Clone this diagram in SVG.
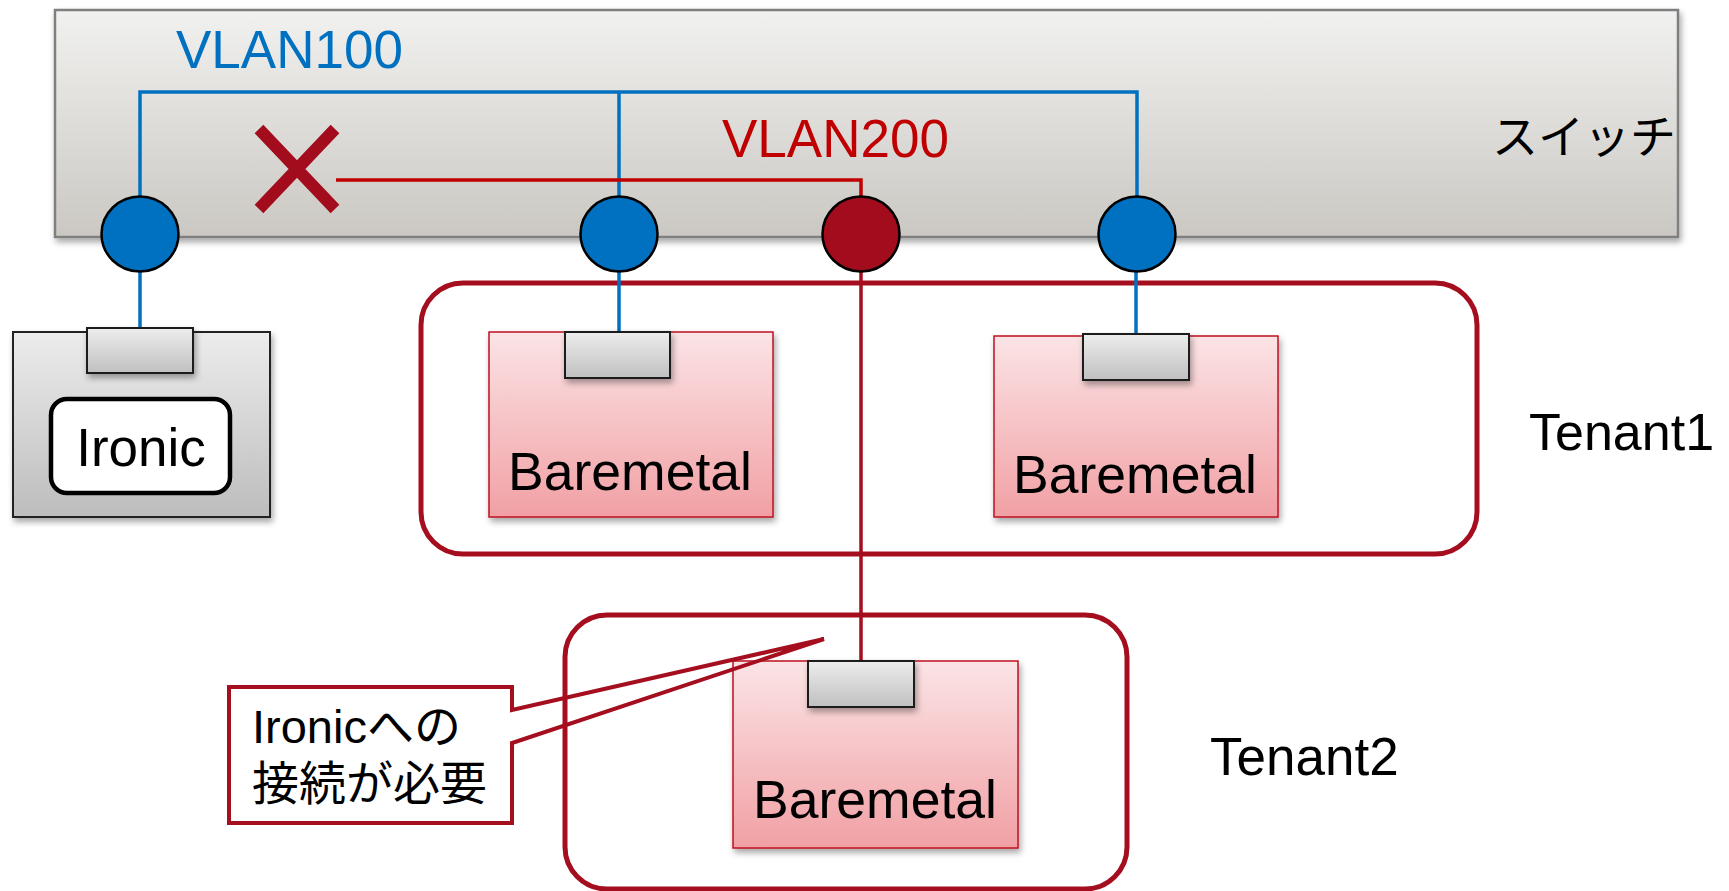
<svg xmlns="http://www.w3.org/2000/svg" width="1729" height="891" viewBox="0 0 1729 891">
<style>
.t{font-family:"Liberation Sans","Noto Sans CJK JP",Arial,sans-serif;fill:#000}
.blue{stroke:#0070c0;stroke-width:3.5;fill:none}
.red{stroke:#c00000;stroke-width:3.5;fill:none}
.dred{stroke:#a50e1e;stroke-width:3.5;fill:none}
.tenant{fill:none;stroke:#a50e1e;stroke-width:5}
.bm{fill:url(#gBm);stroke:#c0101f;stroke-width:1.5;filter:url(#sh)}
.port{fill:url(#gPort);stroke:#1a1a1a;stroke-width:2;filter:url(#sh)}
.pb{fill:#0070c0;stroke:#000;stroke-width:2.5}
.pr{fill:#a20c1c;stroke:#000;stroke-width:2.5}
</style>
<defs>
<linearGradient id="gSw" x1="0" y1="0" x2="0" y2="1"><stop offset="0" stop-color="#f1f1ef"/><stop offset="1" stop-color="#cbc8c3"/></linearGradient>
<linearGradient id="gIr" x1="0" y1="0" x2="0" y2="1"><stop offset="0" stop-color="#ececec"/><stop offset="1" stop-color="#bdbdbd"/></linearGradient>
<linearGradient id="gPort" x1="0" y1="0" x2="0" y2="1"><stop offset="0" stop-color="#ededed"/><stop offset="1" stop-color="#c0c0c0"/></linearGradient>
<linearGradient id="gBm" x1="0" y1="0" x2="0" y2="1"><stop offset="0" stop-color="#fbe4e6"/><stop offset="1" stop-color="#f1a0a4"/></linearGradient>
<filter id="sh" x="-10%" y="-10%" width="130%" height="140%"><feDropShadow dx="2" dy="4" stdDeviation="3" flood-color="#000" flood-opacity="0.35"/></filter>
</defs>

<g id="switch">
<rect x="55" y="10" width="1623" height="227" fill="url(#gSw)" stroke="#7f7f7f" stroke-width="2.5" filter="url(#sh)"/>
<text class="t" x="1676" y="153" font-size="46" text-anchor="end">スイッチ</text>
</g>

<g id="tenant1">
<rect class="tenant" x="421" y="283" width="1056" height="271" rx="42"/>
<text class="t" x="1529" y="450" font-size="52">Tenant1</text>
</g>

<g id="tenant2">
<rect class="tenant" x="565" y="615" width="562" height="274" rx="42"/>
<text class="t" x="1210" y="775" font-size="53">Tenant2</text>
</g>

<g id="connectors">
<path class="blue" d="M140,234 V92 H1137 V234"/>
<path class="blue" d="M619,92 V234"/>
<path class="blue" d="M140,272 V328"/>
<path class="blue" d="M619,272 V332"/>
<path class="blue" d="M1136,272 V334"/>
<path class="red" d="M336,180 H861 V234"/>
<path class="dred" d="M861,272 V661"/>
</g>

<g id="vlan-labels">
<text class="t" x="176" y="68" font-size="53" style="fill:#0070c0">VLAN100</text>
<text class="t" x="722" y="157" font-size="53" style="fill:#c00000">VLAN200</text>
</g>

<g id="x-mark">
<path d="M259,129 L335,209 M335,129 L259,209" stroke="#a20c1c" stroke-width="12" fill="none"/>
</g>

<g id="port1"><ellipse class="pb" cx="140" cy="234" rx="38.5" ry="37.5"/></g>
<g id="port2"><ellipse class="pb" cx="619" cy="234" rx="38.5" ry="37.5"/></g>
<g id="port3"><ellipse class="pr" cx="861" cy="234" rx="38.5" ry="37.5"/></g>
<g id="port4"><ellipse class="pb" cx="1137" cy="234" rx="38.5" ry="37.5"/></g>

<g id="ironic">
<rect x="13" y="332" width="257" height="185" fill="url(#gIr)" stroke="#222" stroke-width="2" filter="url(#sh)"/>
<rect class="port" x="87" y="328" width="106" height="45"/>
<rect x="51" y="399" width="179" height="94" rx="16" fill="#fff" stroke="#000" stroke-width="4.5"/>
<text class="t" x="141" y="466" font-size="53" text-anchor="middle">Ironic</text>
</g>

<g id="baremetal1">
<rect class="bm" x="489" y="332" width="284" height="185"/>
<rect class="port" x="565" y="332" width="105" height="46"/>
<text class="t" x="630" y="490" font-size="53.5" text-anchor="middle">Baremetal</text>
</g>

<g id="baremetal2">
<rect class="bm" x="994" y="336" width="284" height="181"/>
<rect class="port" x="1083" y="334" width="106" height="46"/>
<text class="t" x="1135" y="493" font-size="53.5" text-anchor="middle">Baremetal</text>
</g>

<g id="baremetal3">
<rect class="bm" x="733" y="661" width="285" height="187"/>
<rect class="port" x="808" y="661" width="106" height="46"/>
<text class="t" x="875" y="818" font-size="53.5" text-anchor="middle">Baremetal</text>
</g>

<g id="callout">
<path d="M229,687 H512 V710 L824,639 L512,743 V823 H229 Z" fill="none" stroke="#a50e1e" stroke-width="4" stroke-linejoin="miter"/>
<text class="t" x="252" y="743" font-size="47">Ironicへの</text>
<text class="t" x="252" y="800" font-size="47">接続が必要</text>
</g>
</svg>
